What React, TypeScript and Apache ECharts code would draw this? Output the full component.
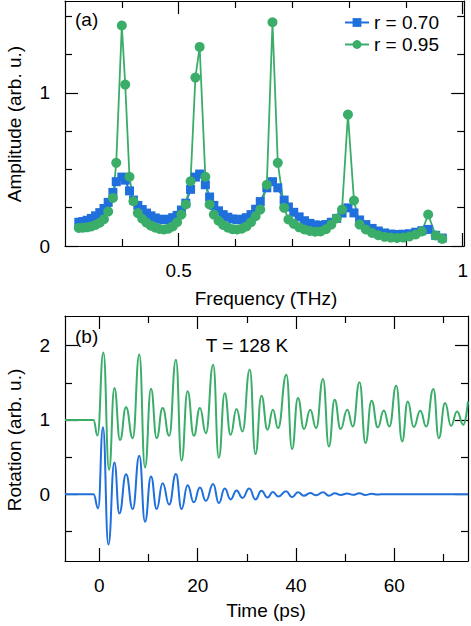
import React, { useEffect, useRef } from "react";
import * as echarts from "echarts";

// ---------- Panel (a): spectra ----------
const freqs = [
  0.3243, 0.3316, 0.339, 0.3464, 0.3538, 0.3612, 0.3686, 0.376, 0.3843, 0.3902, 0.4, 0.406, 0.4135, 0.4205,
  0.4282, 0.4359, 0.4435, 0.4512, 0.4589, 0.4666, 0.4742, 0.4819, 0.4896, 0.4973, 0.5049, 0.5126,
  0.521, 0.5295, 0.537, 0.547, 0.5545, 0.562,
  0.5702, 0.5783, 0.5865, 0.5947, 0.6028, 0.611, 0.6192, 0.6274, 0.6355, 0.6437,
  0.6552, 0.6652, 0.6745, 0.6857, 0.6932,
  0.7026, 0.7121, 0.7215, 0.731, 0.7404, 0.7498, 0.7593, 0.7687, 0.7782, 0.7876,
  0.798, 0.8086, 0.8185,
  0.8295, 0.8405, 0.8514, 0.8624, 0.8734, 0.8843, 0.8953, 0.9063, 0.9173, 0.9282, 0.9392,
  0.9524, 0.964,
];
const ampR070 = [
  0.155, 0.16, 0.168, 0.18, 0.197, 0.218, 0.245, 0.285, 0.35, 0.42, 0.45, 0.43, 0.36, 0.3,
  0.265, 0.238, 0.215, 0.197, 0.183, 0.175, 0.172, 0.175, 0.185, 0.2, 0.235, 0.28,
  0.37, 0.45, 0.47, 0.4, 0.32, 0.265,
  0.23, 0.205, 0.188, 0.177, 0.172, 0.175, 0.185, 0.205, 0.24, 0.29,
  0.38, 0.42, 0.38, 0.3, 0.255,
  0.22, 0.19, 0.165, 0.148, 0.138, 0.135, 0.14, 0.155, 0.18, 0.215,
  0.249, 0.216, 0.17,
  0.14, 0.115, 0.098, 0.085, 0.078, 0.075, 0.077, 0.08, 0.09, 0.1, 0.108,
  0.07, 0.052,
];
const ampR095 = [
  0.118, 0.119, 0.122, 0.128, 0.138, 0.152, 0.175, 0.225, 0.314, 0.543, 1.44, 1.054, 0.452, 0.292,
  0.215, 0.178, 0.152, 0.133, 0.12, 0.111, 0.108, 0.113, 0.128, 0.155, 0.205, 0.271,
  0.423, 1.1, 1.3, 0.452, 0.271, 0.205,
  0.165, 0.137, 0.12, 0.11, 0.108, 0.113, 0.128, 0.155, 0.195, 0.238,
  0.4, 1.461, 0.543, 0.249, 0.173,
  0.145, 0.122, 0.108, 0.098, 0.093, 0.095, 0.11, 0.14, 0.18, 0.238,
  0.858, 0.297, 0.14,
  0.108, 0.085, 0.07, 0.06, 0.055, 0.053, 0.055, 0.062, 0.075, 0.095, 0.206,
  0.069, 0.047,
];

// ---------- Panel (b): time traces (extrema) ----------
const timeGreen = [
  -7, -1.2, -0.4, 0.81, 1.97, 3.05, 4.2, 5.42, 6.78, 8.12, 9.28, 10.5, 11.65, 12.87, 14.2, 15.57, 16.72,
  17.94, 19.22, 20.45, 21.67, 23.15, 24.3, 25.5, 26.7, 27.9, 29.1, 30.6, 31.75, 32.97, 34.2, 35.3, 36.35,
  38.05, 39.2, 40.4, 41.63, 42.9, 44.1, 45.5, 46.7, 47.86, 49.08, 50.43, 51.57, 52.93, 54.15, 55.37,
  56.65, 57.87, 59.0, 60.4, 61.6, 62.74, 63.96, 65.3, 66.5, 67.96, 69.05, 70.34, 71.55, 72.77, 74.05, 75,
];
const rotGreen = [
  1.0, 1.0, 0.79, 1.91, 0.33, 1.43, 0.73, 1.17, 0.755, 1.88, 0.36, 1.42, 0.755, 1.16, 0.786, 1.81, 0.45,
  1.385, 0.786, 1.16, 0.82, 1.745, 0.49, 1.36, 0.8, 1.147, 0.845, 1.68, 0.54, 1.327, 0.868, 1.138, 0.89,
  1.61, 0.606, 1.296, 0.877, 1.138, 0.89, 1.553, 0.642, 1.273, 0.877, 1.138, 0.912, 1.507, 0.688, 1.26,
  0.9, 1.128, 0.912, 1.462, 0.71, 1.25, 0.904, 1.124, 0.912, 1.417, 0.755, 1.228, 0.92, 1.115, 0.935, 1.25,
];
const timeBlue = [
  -7, -1.2, -0.25, 0.72, 1.83, 3.05, 4.06, 5.42, 6.78, 8.12, 9.28, 10.5, 11.65, 12.87, 14.2, 15.57, 16.72,
  17.94, 19.22, 20.45, 21.67, 23.15, 24.3, 25.5, 26.7, 27.9, 29.1, 30.5, 31.75, 32.97, 34.2, 35.3, 36.4,
  38.0, 39.2, 40.4, 41.6, 42.9, 44.1, 45.5, 46.7, 47.9, 49.1, 50.4, 51.6, 52.9, 54.1, 55.4, 56.6, 58, 75,
];
const rotBlue = [
  0, 0, -0.19, 0.9, -0.677, 0.426, -0.26, 0.27, -0.2, 0.516, -0.37, 0.237, -0.2, 0.147, -0.14, 0.273, -0.2,
  0.12, -0.11, 0.09, -0.09, 0.138, -0.12, 0.075, -0.07, 0.05, -0.05, 0.075, -0.07, 0.045, -0.045, 0.03, -0.03,
  0.04, -0.04, 0.025, -0.02, 0.015, -0.015, 0.025, -0.02, 0.012, -0.01, 0.008, -0.008, 0.012, -0.01, 0.005, -0.005, 0, 0,
];

// ---------- Axis ticks ----------
const freqMajor = [0.5, 1.0];
const freqMinor = [0.4, 0.6, 0.7, 0.8, 0.9];
const ampMajor = [0, 1];
const ampMinor = [0.25, 0.5, 0.75, 1.25, 1.5];
const timeMajor = [0, 20, 40, 60];
const timeMinor = [10, 30, 50, 70];
const rotMajor = [0, 1, 2];
const rotMinor = [-0.5, 0.5, 1.5];

const BLUE = "#1f6fdc";
const GREEN = "#3aad69";
const FONT = "Liberation Sans, Arial, Helvetica, sans-serif";
const FS = 19;

function axes(
  dim: "x" | "y",
  gridIndex: number,
  min: number,
  max: number,
  major: number[],
  minor: number[]
) {
  const line = { color: "#000", width: 1.2 };
  const posA = dim === "x" ? "bottom" : "left";
  const posB = dim === "x" ? "top" : "right";
  const base = {
    type: "value",
    gridIndex,
    min,
    max,
    splitLine: { show: false },
  };
  const mk = (pos: string, isMajor: boolean, showLine: boolean, showLabel: boolean) => ({
    ...base,
    position: pos,
    axisLine: { show: showLine, onZero: false, lineStyle: line },
    axisTick: {
      show: true,
      inside: true,
      length: isMajor ? 13 : 7,
      customValues: isMajor ? major : minor,
      lineStyle: line,
    },
    axisLabel: showLabel
      ? {
          show: true,
          customValues: major,
          margin: 15,
          fontSize: FS,
          fontFamily: FONT,
          color: "#000",
        }
      : { show: false },
  });
  return [
    mk(posA, true, true, true),
    mk(posA, false, false, false),
    mk(posB, true, true, false),
    mk(posB, false, false, false),
  ];
}

export default function App() {
  const ref = useRef<HTMLDivElement>(null);
  useEffect(() => {
    if (!ref.current) return;
    const chart = echarts.init(ref.current, undefined, { renderer: "svg" });
    const text = (t: string, x: number, y: number, align = "center", rotation = 0) => ({
      type: "text",
      x,
      y,
      rotation,
      style: {
        text: t,
        fontSize: FS,
        fontFamily: FONT,
        fill: "#000",
        align,
        verticalAlign: "middle",
      },
    });
    const option = {
      animation: false,
      backgroundColor: "#fff",
      grid: [
        { left: 65, top: 1, width: 400, height: 245 },
        { left: 65, top: 316, width: 403, height: 245 },
      ],
      xAxis: [
        ...axes("x", 0, 0.3, 1.0026, freqMajor, freqMinor),
        ...axes("x", 1, -7, 75, timeMajor, timeMinor),
      ],
      yAxis: [
        ...axes("y", 0, 0, 1.6, ampMajor, ampMinor),
        ...axes("y", 1, -0.9, 2.4, rotMajor, rotMinor),
      ],
      legend: {
        data: ["r = 0.70", "r = 0.95"],
        orient: "vertical",
        left: 344,
        top: 13,
        itemWidth: 24,
        itemHeight: 11,
        itemGap: 3,
        padding: 0,
        textStyle: { fontSize: FS, fontFamily: FONT, color: "#000" },
      },
      series: [
        {
          type: "line",
          name: "r = 0.70",
          xAxisIndex: 0,
          yAxisIndex: 0,
          data: freqs.map((f, i) => [f, ampR070[i]]),
          symbol: "rect",
          symbolSize: 9,
          lineStyle: { color: BLUE, width: 2 },
          itemStyle: { color: BLUE },
        },
        {
          type: "line",
          name: "r = 0.95",
          xAxisIndex: 0,
          yAxisIndex: 0,
          data: freqs.map((f, i) => [f, ampR095[i]]),
          symbol: "circle",
          symbolSize: 10,
          lineStyle: { color: GREEN, width: 1.8 },
          itemStyle: { color: GREEN },
        },
        {
          type: "line",
          name: "trace r95",
          xAxisIndex: 4,
          yAxisIndex: 4,
          data: timeGreen.map((t, i) => [t, rotGreen[i]]),
          smooth: 0.5,
          smoothMonotone: "x",
          showSymbol: false,
          symbol: "none",
          lineStyle: { color: GREEN, width: 2 },
        },
        {
          type: "line",
          name: "trace r70",
          xAxisIndex: 4,
          yAxisIndex: 4,
          data: timeBlue.map((t, i) => [t, rotBlue[i]]),
          smooth: 0.5,
          smoothMonotone: "x",
          showSymbol: false,
          symbol: "none",
          lineStyle: { color: BLUE, width: 2 },
        },
      ],
      graphic: [
        text("(a)", 75, 19, "left"),
        text("(b)", 75, 336, "left"),
        text("T = 128 K", 247, 345),
        text("Frequency (THz)", 266, 298),
        text("Time (ps)", 266, 610),
        text("Amplitude (arb. u.)", 14, 124, "center", Math.PI / 2),
        text("Rotation (arb. u.)", 14, 440, "center", Math.PI / 2),
      ],
    };
    chart.setOption(option as any);
    return () => chart.dispose();
  }, []);
  return (
    <div
      ref={ref}
      style={{ position: "fixed", left: 0, top: 0, width: 471, height: 626, background: "#fff" }}
    />
  );
}
